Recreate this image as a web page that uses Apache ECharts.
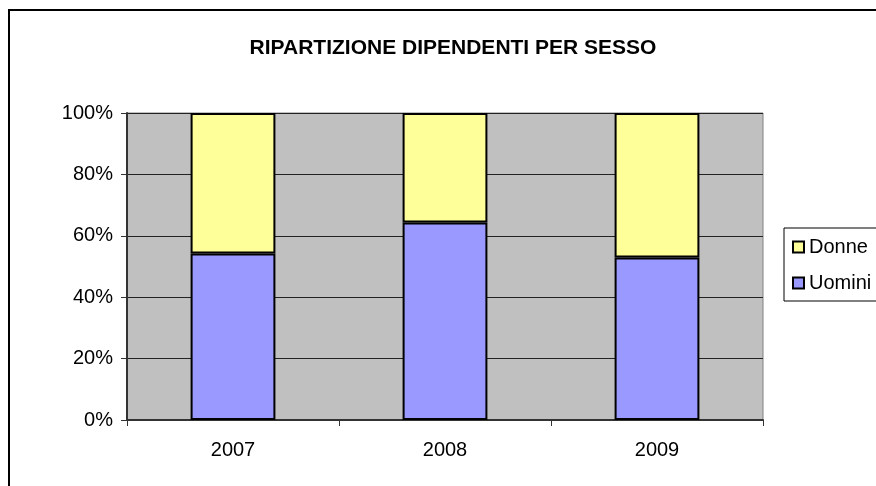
<!DOCTYPE html>
<html>
<head>
    <meta charset="utf-8">
    <script src="https://cdn.jsdelivr.net/npm/echarts@6/dist/echarts.min.js"></script>
</head>
<body style="margin:0; background:#fff;">
    <div id="main" style="width:876px; height:486px;"></div>
	<script type="text/javascript">
		var years = ['2007', '2008', '2009'];
		var uomini = [54.2, 64.3, 52.9];
		var donne = [45.8, 35.7, 47.1];
		var yTicks = [0, 20, 40, 60, 80, 100];

        var myChart = echarts.init(document.getElementById('main'));
		var font = 'Liberation Sans, Arial, sans-serif';
		option = {
			backgroundColor: '#fff',
			animation: false,
			textStyle: { fontFamily: font },
			title: {
				text: 'RIPARTIZIONE DIPENDENTI PER SESSO',
				left: 448,
				top: 33,
				textAlign: 'center',
				textStyle: { fontFamily: font, fontSize: 21, fontWeight: 'bold', color: '#000' }
			},
			graphic: [{
				type: 'rect',
				shape: { x: 9, y: 10, width: 900, height: 500 },
				style: { fill: 'none', stroke: '#000', lineWidth: 2 },
				z: 100
			}],
			legend: {
				orient: 'vertical',
				left: 784,
				top: 228,
				data: ['Donne', 'Uomini'],
				icon: 'rect',
				itemWidth: 11,
				itemHeight: 11,
				itemGap: 16,
				padding: [9, 10, 8, 8],
				borderColor: '#000',
				borderWidth: 1,
				borderRadius: 0,
				backgroundColor: '#fff',
				textStyle: { fontFamily: font, fontSize: 20, color: '#000' }
			},
			grid: {
				left: 127,
				top: 113,
				right: 113,
				bottom: 66,
				show: true,
				backgroundColor: '#C0C0C0',
				borderColor: '#808080',
				borderWidth: 1
			},
			xAxis: {
				type: 'category',
				data: years,
				axisLine: { lineStyle: { color: '#333', width: 2 } },
				axisTick: { show: true, length: 6, lineStyle: { color: '#333' } },
				axisLabel: { fontSize: 20, color: '#000', margin: 20 },
				splitLine: { show: false }
			},
			yAxis: {
				type: 'value',
				min: yTicks[0],
				max: yTicks[yTicks.length - 1],
				interval: 20,
				axisLine: { show: true, lineStyle: { color: '#333', width: 2 } },
				axisTick: { show: true, length: 6, lineStyle: { color: '#333' } },
				axisLabel: { fontSize: 20, color: '#000', margin: 14, formatter: '{value}%' },
				splitLine: { show: true, lineStyle: { color: '#222', width: 1 } }
			},
			series: [{
				name: 'Uomini',
				type: 'bar',
				stack: 'tot',
				barWidth: '40%',
				z: 3,
				data: uomini,
				itemStyle: { color: '#9999FF', borderColor: '#000', borderWidth: 2 }
			}, {
				name: 'Donne',
				type: 'bar',
				stack: 'tot',
				barWidth: '40%',
				z: 2,
				data: donne,
				itemStyle: { color: '#FFFF99', borderColor: '#000', borderWidth: 2 }
			}]
		};
        myChart.setOption(option);
    </script>
</body>
</html>
